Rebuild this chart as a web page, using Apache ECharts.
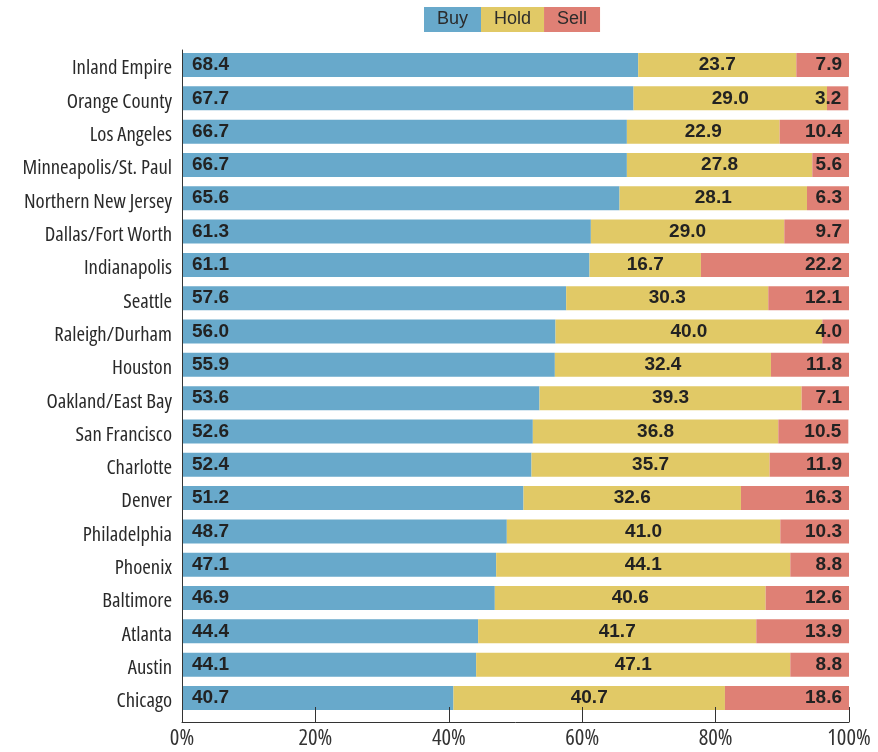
<!DOCTYPE html>
<html>
<head>
<meta charset="utf-8">
<script src="https://cdn.jsdelivr.net/npm/echarts@6/dist/echarts.min.js"></script>
<style>html,body{margin:0;padding:0;background:#fff}#c{width:878px;height:752px}</style>
</head>
<body>
<div id="c"></div>
<script>
const categories = ["Inland Empire","Orange County","Los Angeles","Minneapolis/St. Paul","Northern New Jersey","Dallas/Fort Worth","Indianapolis","Seattle","Raleigh/Durham","Houston","Oakland/East Bay","San Francisco","Charlotte","Denver","Philadelphia","Phoenix","Baltimore","Atlanta","Austin","Chicago"];
const buy  = [68.4,67.7,66.7,66.7,65.6,61.3,61.1,57.6,56.0,55.9,53.6,52.6,52.4,51.2,48.7,47.1,46.9,44.4,44.1,40.7];
const hold = [23.7,29.0,22.9,27.8,28.1,29.0,16.7,30.3,40.0,32.4,39.3,36.8,35.7,32.6,41.0,44.1,40.6,41.7,47.1,40.7];
const sell = [7.9,3.2,10.4,5.6,6.3,9.7,22.2,12.1,4.0,11.8,7.1,10.5,11.9,16.3,10.3,8.8,12.6,13.9,8.8,18.6];
const seriesNames = ["Buy","Hold","Sell"];
const xTicks = [0,20,40,60,80,100];

const colors = {Buy:'#68a9cb', Hold:'#e1c966', Sell:'#df8075'};
const condFamily = "'Open Sans','Roboto Condensed',sans-serif";
const labelFont = {fontFamily:"'Liberation Sans',Arial,sans-serif", fontWeight:'bold', fontSize:19, color:'#222'};

const chart = echarts.init(document.getElementById('c'), null, {renderer:'canvas'});
const mk = (name, data, pos, dist) => ({
  name, type:'bar', stack:'all', data, xAxisIndex:0, yAxisIndex:0,
  barWidth:24, itemStyle:{color:colors[name]},
  label:{show:true, position:pos, distance:dist, formatter:p=>Number(p.value).toFixed(1), ...labelFont},
  emphasis:{disabled:true}
});
chart.setOption({
  animation:false,
  legend:{
    left:419, top:7, padding:0, icon:'none', itemWidth:0, itemHeight:0, itemGap:-5, selectedMode:false,
    textStyle:{fontFamily:"'Liberation Sans',Arial,sans-serif", fontSize:18, color:'#2b2b2b', lineHeight:25, height:25},
    data: seriesNames.map(n=>({name:n, textStyle:{backgroundColor:colors[n], padding:[0,13]}}))
  },
  grid:[
    {left:182, right:29, top:48.34, height:666.3, outerBoundsMode:'none', containLabel:false},
    {left:182, right:29, top:50, height:672, outerBoundsMode:'none', containLabel:false}
  ],
  xAxis:[
    {gridIndex:0, type:'value', min:0, max:100, show:false},
    {gridIndex:1, type:'value', min:0, max:100, interval:20, z:10,
     axisLine:{show:true, lineStyle:{color:'#333', width:1}},
     axisTick:{show:true, inside:true, length:15, lineStyle:{color:'#333'}},
     splitLine:{show:false},
     axisLabel:{formatter:v=> xTicks.includes(v) ? v+'%' : '', fontStyle:'condensed', fontFamily:condFamily, fontSize:22.5, color:'#333', margin:5}}
  ],
  yAxis:[
    {gridIndex:0, type:'category', data:categories, inverse:true,
     axisLine:{show:false}, axisTick:{show:false},
     axisLabel:{margin:10, formatter:v=>'{a|'+v+'}',
       rich:{a:{fontStyle:'condensed', fontFamily:condFamily, fontSize:20.7, color:'#2a2a2a', padding:[7,0,0,0]}}}},
    {gridIndex:1, type:'value', min:0, max:1, z:10,
     axisLine:{show:true, lineStyle:{color:'#333', width:1}},
     axisTick:{show:false}, axisLabel:{show:false}, splitLine:{show:false}}
  ],
  series:[
    mk('Buy', buy, 'insideLeft', 10),
    mk('Hold', hold, 'inside', 5),
    mk('Sell', sell, 'insideRight', 7)
  ]
});
</script>
</body>
</html>
